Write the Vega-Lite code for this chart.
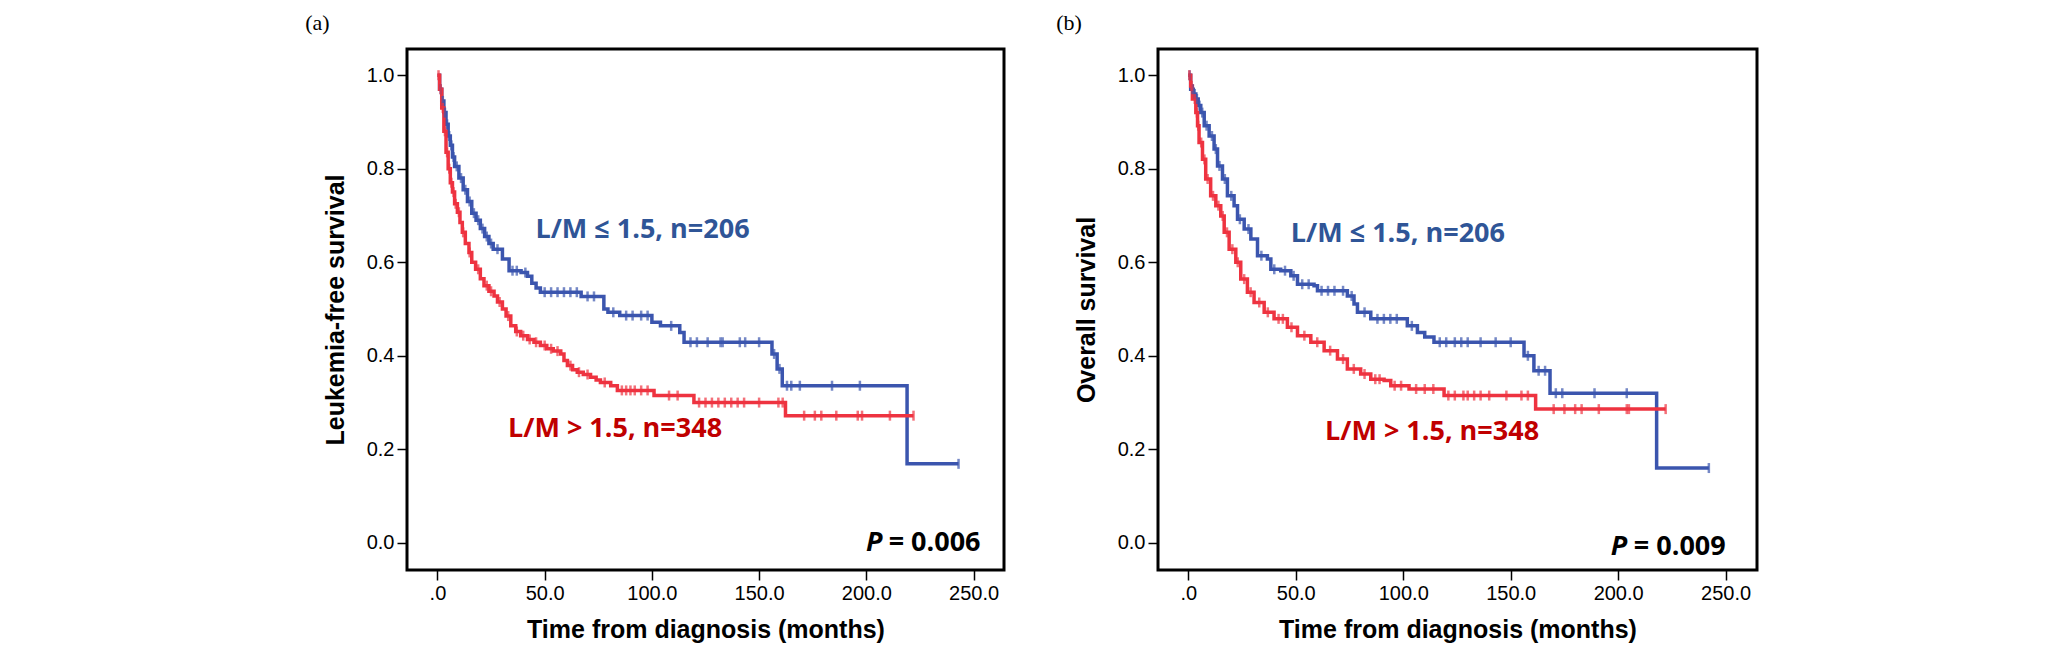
{
  "$schema": "https://vega.github.io/schema/vega-lite/v6.json",
  "background": "white",
  "padding": {"left": 303, "top": 10, "right": 5, "bottom": 0},
  "spacing": 48,
  "datasets": {
    "lfs": [
      {"group": "L/M ≤ 1.5", "t": 0, "s": 1.0}, {"group": "L/M ≤ 1.5", "t": 1, "s": 0.97}, {"group": "L/M ≤ 1.5", "t": 2, "s": 0.945},
      {"group": "L/M ≤ 1.5", "t": 3, "s": 0.92}, {"group": "L/M ≤ 1.5", "t": 4, "s": 0.895}, {"group": "L/M ≤ 1.5", "t": 5, "s": 0.87},
      {"group": "L/M ≤ 1.5", "t": 6, "s": 0.85}, {"group": "L/M ≤ 1.5", "t": 7, "s": 0.825}, {"group": "L/M ≤ 1.5", "t": 8, "s": 0.805},
      {"group": "L/M ≤ 1.5", "t": 10, "s": 0.78}, {"group": "L/M ≤ 1.5", "t": 12, "s": 0.755}, {"group": "L/M ≤ 1.5", "t": 14, "s": 0.73},
      {"group": "L/M ≤ 1.5", "t": 16, "s": 0.705}, {"group": "L/M ≤ 1.5", "t": 18, "s": 0.69}, {"group": "L/M ≤ 1.5", "t": 20, "s": 0.672},
      {"group": "L/M ≤ 1.5", "t": 22, "s": 0.655}, {"group": "L/M ≤ 1.5", "t": 24, "s": 0.64}, {"group": "L/M ≤ 1.5", "t": 26, "s": 0.628},
      {"group": "L/M ≤ 1.5", "t": 30.3, "s": 0.607}, {"group": "L/M ≤ 1.5", "t": 33.4, "s": 0.582}, {"group": "L/M ≤ 1.5", "t": 39, "s": 0.578},
      {"group": "L/M ≤ 1.5", "t": 42, "s": 0.57}, {"group": "L/M ≤ 1.5", "t": 44, "s": 0.555}, {"group": "L/M ≤ 1.5", "t": 46, "s": 0.545},
      {"group": "L/M ≤ 1.5", "t": 48, "s": 0.536}, {"group": "L/M ≤ 1.5", "t": 67, "s": 0.527}, {"group": "L/M ≤ 1.5", "t": 77.6, "s": 0.5},
      {"group": "L/M ≤ 1.5", "t": 79.5, "s": 0.493}, {"group": "L/M ≤ 1.5", "t": 85, "s": 0.486}, {"group": "L/M ≤ 1.5", "t": 100, "s": 0.472},
      {"group": "L/M ≤ 1.5", "t": 104, "s": 0.464}, {"group": "L/M ≤ 1.5", "t": 113, "s": 0.45}, {"group": "L/M ≤ 1.5", "t": 115, "s": 0.429},
      {"group": "L/M ≤ 1.5", "t": 156, "s": 0.404}, {"group": "L/M ≤ 1.5", "t": 158.4, "s": 0.372}, {"group": "L/M ≤ 1.5", "t": 160.8, "s": 0.336},
      {"group": "L/M ≤ 1.5", "t": 219, "s": 0.169}, {"group": "L/M ≤ 1.5", "t": 243, "s": 0.169},
      {"group": "L/M > 1.5", "t": 0, "s": 1.0}, {"group": "L/M > 1.5", "t": 1, "s": 0.97}, {"group": "L/M > 1.5", "t": 2, "s": 0.93},
      {"group": "L/M > 1.5", "t": 3, "s": 0.88}, {"group": "L/M > 1.5", "t": 4, "s": 0.835}, {"group": "L/M > 1.5", "t": 5, "s": 0.8},
      {"group": "L/M > 1.5", "t": 6, "s": 0.77}, {"group": "L/M > 1.5", "t": 7, "s": 0.75}, {"group": "L/M > 1.5", "t": 8, "s": 0.725},
      {"group": "L/M > 1.5", "t": 9.3, "s": 0.707}, {"group": "L/M > 1.5", "t": 10.5, "s": 0.685}, {"group": "L/M > 1.5", "t": 11.6, "s": 0.664},
      {"group": "L/M > 1.5", "t": 13, "s": 0.64}, {"group": "L/M > 1.5", "t": 14.7, "s": 0.621}, {"group": "L/M > 1.5", "t": 16, "s": 0.6},
      {"group": "L/M > 1.5", "t": 17.8, "s": 0.585}, {"group": "L/M > 1.5", "t": 20, "s": 0.565}, {"group": "L/M > 1.5", "t": 21.7, "s": 0.55},
      {"group": "L/M > 1.5", "t": 24, "s": 0.538}, {"group": "L/M > 1.5", "t": 26.4, "s": 0.528}, {"group": "L/M > 1.5", "t": 28, "s": 0.515},
      {"group": "L/M > 1.5", "t": 30.3, "s": 0.5}, {"group": "L/M > 1.5", "t": 32, "s": 0.485}, {"group": "L/M > 1.5", "t": 34.2, "s": 0.464},
      {"group": "L/M > 1.5", "t": 36.5, "s": 0.452}, {"group": "L/M > 1.5", "t": 38.8, "s": 0.443}, {"group": "L/M > 1.5", "t": 42, "s": 0.435},
      {"group": "L/M > 1.5", "t": 45, "s": 0.429}, {"group": "L/M > 1.5", "t": 48, "s": 0.422}, {"group": "L/M > 1.5", "t": 51, "s": 0.415},
      {"group": "L/M > 1.5", "t": 54, "s": 0.41}, {"group": "L/M > 1.5", "t": 57.5, "s": 0.404}, {"group": "L/M > 1.5", "t": 59, "s": 0.39},
      {"group": "L/M > 1.5", "t": 60.6, "s": 0.379}, {"group": "L/M > 1.5", "t": 63, "s": 0.37}, {"group": "L/M > 1.5", "t": 65.2, "s": 0.365},
      {"group": "L/M > 1.5", "t": 68, "s": 0.36}, {"group": "L/M > 1.5", "t": 71.4, "s": 0.354}, {"group": "L/M > 1.5", "t": 74, "s": 0.348},
      {"group": "L/M > 1.5", "t": 76, "s": 0.343}, {"group": "L/M > 1.5", "t": 80.8, "s": 0.336}, {"group": "L/M > 1.5", "t": 83.9, "s": 0.326},
      {"group": "L/M > 1.5", "t": 101, "s": 0.315}, {"group": "L/M > 1.5", "t": 119.6, "s": 0.3}, {"group": "L/M > 1.5", "t": 162.3, "s": 0.272},
      {"group": "L/M > 1.5", "t": 222, "s": 0.272}
    ],
    "lfs_cens": [
      {"group": "L/M ≤ 1.5", "t": 1.5, "s": 0.97}, {"group": "L/M ≤ 1.5", "t": 2.5, "s": 0.945}, {"group": "L/M ≤ 1.5", "t": 3.5, "s": 0.92},
      {"group": "L/M ≤ 1.5", "t": 4.5, "s": 0.895}, {"group": "L/M ≤ 1.5", "t": 5.5, "s": 0.87}, {"group": "L/M ≤ 1.5", "t": 6.5, "s": 0.85},
      {"group": "L/M ≤ 1.5", "t": 7.5, "s": 0.825}, {"group": "L/M ≤ 1.5", "t": 9, "s": 0.805}, {"group": "L/M ≤ 1.5", "t": 11, "s": 0.78},
      {"group": "L/M ≤ 1.5", "t": 13, "s": 0.755}, {"group": "L/M ≤ 1.5", "t": 15, "s": 0.73}, {"group": "L/M ≤ 1.5", "t": 17, "s": 0.705},
      {"group": "L/M ≤ 1.5", "t": 19, "s": 0.69}, {"group": "L/M ≤ 1.5", "t": 21, "s": 0.672}, {"group": "L/M ≤ 1.5", "t": 23, "s": 0.655},
      {"group": "L/M ≤ 1.5", "t": 25, "s": 0.64}, {"group": "L/M ≤ 1.5", "t": 28, "s": 0.628}, {"group": "L/M ≤ 1.5", "t": 35, "s": 0.582},
      {"group": "L/M ≤ 1.5", "t": 37, "s": 0.582}, {"group": "L/M ≤ 1.5", "t": 41, "s": 0.578}, {"group": "L/M ≤ 1.5", "t": 50, "s": 0.536},
      {"group": "L/M ≤ 1.5", "t": 53, "s": 0.536}, {"group": "L/M ≤ 1.5", "t": 56, "s": 0.536}, {"group": "L/M ≤ 1.5", "t": 59, "s": 0.536},
      {"group": "L/M ≤ 1.5", "t": 62, "s": 0.536}, {"group": "L/M ≤ 1.5", "t": 65, "s": 0.536}, {"group": "L/M ≤ 1.5", "t": 70, "s": 0.527},
      {"group": "L/M ≤ 1.5", "t": 73, "s": 0.527}, {"group": "L/M ≤ 1.5", "t": 82, "s": 0.493}, {"group": "L/M ≤ 1.5", "t": 88, "s": 0.486},
      {"group": "L/M ≤ 1.5", "t": 91, "s": 0.486}, {"group": "L/M ≤ 1.5", "t": 95, "s": 0.486}, {"group": "L/M ≤ 1.5", "t": 98, "s": 0.486},
      {"group": "L/M ≤ 1.5", "t": 109, "s": 0.464}, {"group": "L/M ≤ 1.5", "t": 118, "s": 0.429}, {"group": "L/M ≤ 1.5", "t": 121, "s": 0.429},
      {"group": "L/M ≤ 1.5", "t": 126, "s": 0.429}, {"group": "L/M ≤ 1.5", "t": 132, "s": 0.429}, {"group": "L/M ≤ 1.5", "t": 133, "s": 0.429},
      {"group": "L/M ≤ 1.5", "t": 141, "s": 0.429}, {"group": "L/M ≤ 1.5", "t": 143.5, "s": 0.429}, {"group": "L/M ≤ 1.5", "t": 150, "s": 0.429},
      {"group": "L/M ≤ 1.5", "t": 157, "s": 0.404}, {"group": "L/M ≤ 1.5", "t": 159.5, "s": 0.372}, {"group": "L/M ≤ 1.5", "t": 163, "s": 0.336},
      {"group": "L/M ≤ 1.5", "t": 165, "s": 0.336}, {"group": "L/M ≤ 1.5", "t": 169, "s": 0.336}, {"group": "L/M ≤ 1.5", "t": 184, "s": 0.336},
      {"group": "L/M ≤ 1.5", "t": 197, "s": 0.336}, {"group": "L/M ≤ 1.5", "t": 243, "s": 0.169},
      {"group": "L/M > 1.5", "t": 0.5, "s": 1.0}, {"group": "L/M > 1.5", "t": 1.5, "s": 0.97}, {"group": "L/M > 1.5", "t": 2.5, "s": 0.93},
      {"group": "L/M > 1.5", "t": 3.5, "s": 0.88}, {"group": "L/M > 1.5", "t": 4.5, "s": 0.835}, {"group": "L/M > 1.5", "t": 5.5, "s": 0.8},
      {"group": "L/M > 1.5", "t": 6.5, "s": 0.77}, {"group": "L/M > 1.5", "t": 7.5, "s": 0.75}, {"group": "L/M > 1.5", "t": 8.5, "s": 0.725},
      {"group": "L/M > 1.5", "t": 10, "s": 0.707}, {"group": "L/M > 1.5", "t": 12, "s": 0.664}, {"group": "L/M > 1.5", "t": 15, "s": 0.621},
      {"group": "L/M > 1.5", "t": 19, "s": 0.585}, {"group": "L/M > 1.5", "t": 23, "s": 0.55}, {"group": "L/M > 1.5", "t": 25, "s": 0.538},
      {"group": "L/M > 1.5", "t": 29, "s": 0.515}, {"group": "L/M > 1.5", "t": 33, "s": 0.485}, {"group": "L/M > 1.5", "t": 37, "s": 0.452},
      {"group": "L/M > 1.5", "t": 40, "s": 0.443}, {"group": "L/M > 1.5", "t": 43, "s": 0.435}, {"group": "L/M > 1.5", "t": 46, "s": 0.429},
      {"group": "L/M > 1.5", "t": 50, "s": 0.422}, {"group": "L/M > 1.5", "t": 53, "s": 0.415}, {"group": "L/M > 1.5", "t": 56, "s": 0.41},
      {"group": "L/M > 1.5", "t": 62, "s": 0.379}, {"group": "L/M > 1.5", "t": 66, "s": 0.365}, {"group": "L/M > 1.5", "t": 70, "s": 0.36},
      {"group": "L/M > 1.5", "t": 78, "s": 0.343}, {"group": "L/M > 1.5", "t": 86, "s": 0.326}, {"group": "L/M > 1.5", "t": 88, "s": 0.326},
      {"group": "L/M > 1.5", "t": 90, "s": 0.326}, {"group": "L/M > 1.5", "t": 92, "s": 0.326}, {"group": "L/M > 1.5", "t": 95, "s": 0.326},
      {"group": "L/M > 1.5", "t": 98, "s": 0.326}, {"group": "L/M > 1.5", "t": 108, "s": 0.315}, {"group": "L/M > 1.5", "t": 112, "s": 0.315},
      {"group": "L/M > 1.5", "t": 122, "s": 0.3}, {"group": "L/M > 1.5", "t": 125, "s": 0.3}, {"group": "L/M > 1.5", "t": 128, "s": 0.3},
      {"group": "L/M > 1.5", "t": 131, "s": 0.3}, {"group": "L/M > 1.5", "t": 134, "s": 0.3}, {"group": "L/M > 1.5", "t": 137, "s": 0.3},
      {"group": "L/M > 1.5", "t": 140, "s": 0.3}, {"group": "L/M > 1.5", "t": 143, "s": 0.3}, {"group": "L/M > 1.5", "t": 150, "s": 0.3},
      {"group": "L/M > 1.5", "t": 159, "s": 0.3}, {"group": "L/M > 1.5", "t": 161, "s": 0.3}, {"group": "L/M > 1.5", "t": 171, "s": 0.272},
      {"group": "L/M > 1.5", "t": 176, "s": 0.272}, {"group": "L/M > 1.5", "t": 179, "s": 0.272}, {"group": "L/M > 1.5", "t": 186, "s": 0.272},
      {"group": "L/M > 1.5", "t": 196, "s": 0.272}, {"group": "L/M > 1.5", "t": 198, "s": 0.272}, {"group": "L/M > 1.5", "t": 211, "s": 0.272},
      {"group": "L/M > 1.5", "t": 222, "s": 0.272}
    ],
    "os": [
      {"group": "L/M ≤ 1.5", "t": 0, "s": 1.0}, {"group": "L/M ≤ 1.5", "t": 1.1, "s": 0.97}, {"group": "L/M ≤ 1.5", "t": 2.3, "s": 0.96},
      {"group": "L/M ≤ 1.5", "t": 3.5, "s": 0.949}, {"group": "L/M ≤ 1.5", "t": 4.6, "s": 0.935}, {"group": "L/M ≤ 1.5", "t": 5.8, "s": 0.92},
      {"group": "L/M ≤ 1.5", "t": 7.4, "s": 0.892}, {"group": "L/M ≤ 1.5", "t": 9.7, "s": 0.87}, {"group": "L/M ≤ 1.5", "t": 12, "s": 0.842},
      {"group": "L/M ≤ 1.5", "t": 13.6, "s": 0.806}, {"group": "L/M ≤ 1.5", "t": 15.9, "s": 0.778}, {"group": "L/M ≤ 1.5", "t": 18.2, "s": 0.742},
      {"group": "L/M ≤ 1.5", "t": 21.3, "s": 0.721}, {"group": "L/M ≤ 1.5", "t": 22.9, "s": 0.692}, {"group": "L/M ≤ 1.5", "t": 26, "s": 0.671},
      {"group": "L/M ≤ 1.5", "t": 29.1, "s": 0.65}, {"group": "L/M ≤ 1.5", "t": 32.2, "s": 0.614}, {"group": "L/M ≤ 1.5", "t": 36.8, "s": 0.607},
      {"group": "L/M ≤ 1.5", "t": 38.4, "s": 0.585}, {"group": "L/M ≤ 1.5", "t": 43, "s": 0.582}, {"group": "L/M ≤ 1.5", "t": 47.7, "s": 0.571},
      {"group": "L/M ≤ 1.5", "t": 50.8, "s": 0.553}, {"group": "L/M ≤ 1.5", "t": 58.5, "s": 0.55}, {"group": "L/M ≤ 1.5", "t": 60.1, "s": 0.539},
      {"group": "L/M ≤ 1.5", "t": 74, "s": 0.528}, {"group": "L/M ≤ 1.5", "t": 77.1, "s": 0.511}, {"group": "L/M ≤ 1.5", "t": 78.7, "s": 0.493},
      {"group": "L/M ≤ 1.5", "t": 84.9, "s": 0.479}, {"group": "L/M ≤ 1.5", "t": 101.9, "s": 0.464}, {"group": "L/M ≤ 1.5", "t": 106.6, "s": 0.45},
      {"group": "L/M ≤ 1.5", "t": 110, "s": 0.44}, {"group": "L/M ≤ 1.5", "t": 114.3, "s": 0.429}, {"group": "L/M ≤ 1.5", "t": 156.2, "s": 0.4},
      {"group": "L/M ≤ 1.5", "t": 160.8, "s": 0.368}, {"group": "L/M ≤ 1.5", "t": 168.3, "s": 0.32}, {"group": "L/M ≤ 1.5", "t": 217.9, "s": 0.16},
      {"group": "L/M ≤ 1.5", "t": 242.2, "s": 0.16},
      {"group": "L/M > 1.5", "t": 0, "s": 1.0}, {"group": "L/M > 1.5", "t": 1.1, "s": 0.977}, {"group": "L/M > 1.5", "t": 1.9, "s": 0.949},
      {"group": "L/M > 1.5", "t": 3.5, "s": 0.92}, {"group": "L/M > 1.5", "t": 4.3, "s": 0.892}, {"group": "L/M > 1.5", "t": 5, "s": 0.856},
      {"group": "L/M > 1.5", "t": 6.6, "s": 0.82}, {"group": "L/M > 1.5", "t": 8.1, "s": 0.778}, {"group": "L/M > 1.5", "t": 10.4, "s": 0.742},
      {"group": "L/M > 1.5", "t": 12.8, "s": 0.721}, {"group": "L/M > 1.5", "t": 15.1, "s": 0.699}, {"group": "L/M > 1.5", "t": 16.7, "s": 0.664},
      {"group": "L/M > 1.5", "t": 19, "s": 0.628}, {"group": "L/M > 1.5", "t": 22.1, "s": 0.6}, {"group": "L/M > 1.5", "t": 24.4, "s": 0.564},
      {"group": "L/M > 1.5", "t": 27.5, "s": 0.536}, {"group": "L/M > 1.5", "t": 30.6, "s": 0.514}, {"group": "L/M > 1.5", "t": 35.3, "s": 0.493},
      {"group": "L/M > 1.5", "t": 39.9, "s": 0.479}, {"group": "L/M > 1.5", "t": 46.1, "s": 0.461}, {"group": "L/M > 1.5", "t": 50.8, "s": 0.443},
      {"group": "L/M > 1.5", "t": 57, "s": 0.429}, {"group": "L/M > 1.5", "t": 63.2, "s": 0.411}, {"group": "L/M > 1.5", "t": 69.4, "s": 0.393},
      {"group": "L/M > 1.5", "t": 74, "s": 0.372}, {"group": "L/M > 1.5", "t": 80.2, "s": 0.361}, {"group": "L/M > 1.5", "t": 84.9, "s": 0.35},
      {"group": "L/M > 1.5", "t": 91.1, "s": 0.347}, {"group": "L/M > 1.5", "t": 94.2, "s": 0.336}, {"group": "L/M > 1.5", "t": 102.7, "s": 0.329},
      {"group": "L/M > 1.5", "t": 119, "s": 0.315}, {"group": "L/M > 1.5", "t": 161.6, "s": 0.286}, {"group": "L/M > 1.5", "t": 222.1, "s": 0.286}
    ],
    "os_cens": [
      {"group": "L/M ≤ 1.5", "t": 0.6, "s": 1.0}, {"group": "L/M ≤ 1.5", "t": 2, "s": 0.97}, {"group": "L/M ≤ 1.5", "t": 3, "s": 0.96},
      {"group": "L/M ≤ 1.5", "t": 4, "s": 0.949}, {"group": "L/M ≤ 1.5", "t": 5.2, "s": 0.935}, {"group": "L/M ≤ 1.5", "t": 6.5, "s": 0.92},
      {"group": "L/M ≤ 1.5", "t": 8.5, "s": 0.892}, {"group": "L/M ≤ 1.5", "t": 11, "s": 0.87}, {"group": "L/M ≤ 1.5", "t": 12.8, "s": 0.842},
      {"group": "L/M ≤ 1.5", "t": 14.5, "s": 0.806}, {"group": "L/M ≤ 1.5", "t": 17, "s": 0.778}, {"group": "L/M ≤ 1.5", "t": 20, "s": 0.742},
      {"group": "L/M ≤ 1.5", "t": 24, "s": 0.692}, {"group": "L/M ≤ 1.5", "t": 28, "s": 0.671}, {"group": "L/M ≤ 1.5", "t": 34, "s": 0.614},
      {"group": "L/M ≤ 1.5", "t": 40, "s": 0.585}, {"group": "L/M ≤ 1.5", "t": 45, "s": 0.582}, {"group": "L/M ≤ 1.5", "t": 49, "s": 0.571},
      {"group": "L/M ≤ 1.5", "t": 53, "s": 0.553}, {"group": "L/M ≤ 1.5", "t": 56, "s": 0.553}, {"group": "L/M ≤ 1.5", "t": 62, "s": 0.539},
      {"group": "L/M ≤ 1.5", "t": 65, "s": 0.539}, {"group": "L/M ≤ 1.5", "t": 68, "s": 0.539}, {"group": "L/M ≤ 1.5", "t": 72, "s": 0.539},
      {"group": "L/M ≤ 1.5", "t": 76, "s": 0.528}, {"group": "L/M ≤ 1.5", "t": 82, "s": 0.493}, {"group": "L/M ≤ 1.5", "t": 88, "s": 0.479},
      {"group": "L/M ≤ 1.5", "t": 91, "s": 0.479}, {"group": "L/M ≤ 1.5", "t": 94, "s": 0.479}, {"group": "L/M ≤ 1.5", "t": 97, "s": 0.479},
      {"group": "L/M ≤ 1.5", "t": 104, "s": 0.464}, {"group": "L/M ≤ 1.5", "t": 117, "s": 0.429}, {"group": "L/M ≤ 1.5", "t": 120, "s": 0.429},
      {"group": "L/M ≤ 1.5", "t": 124, "s": 0.429}, {"group": "L/M ≤ 1.5", "t": 127, "s": 0.429}, {"group": "L/M ≤ 1.5", "t": 130, "s": 0.429},
      {"group": "L/M ≤ 1.5", "t": 136, "s": 0.429}, {"group": "L/M ≤ 1.5", "t": 143, "s": 0.429}, {"group": "L/M ≤ 1.5", "t": 150, "s": 0.429},
      {"group": "L/M ≤ 1.5", "t": 158, "s": 0.4}, {"group": "L/M ≤ 1.5", "t": 163, "s": 0.368}, {"group": "L/M ≤ 1.5", "t": 166, "s": 0.368},
      {"group": "L/M ≤ 1.5", "t": 171, "s": 0.32}, {"group": "L/M ≤ 1.5", "t": 174, "s": 0.32}, {"group": "L/M ≤ 1.5", "t": 189, "s": 0.32},
      {"group": "L/M ≤ 1.5", "t": 204, "s": 0.32}, {"group": "L/M ≤ 1.5", "t": 242.2, "s": 0.16},
      {"group": "L/M > 1.5", "t": 0.5, "s": 1.0}, {"group": "L/M > 1.5", "t": 1.5, "s": 0.977}, {"group": "L/M > 1.5", "t": 3, "s": 0.949},
      {"group": "L/M > 1.5", "t": 4, "s": 0.92}, {"group": "L/M > 1.5", "t": 4.6, "s": 0.892}, {"group": "L/M > 1.5", "t": 6, "s": 0.856},
      {"group": "L/M > 1.5", "t": 7.5, "s": 0.82}, {"group": "L/M > 1.5", "t": 9, "s": 0.778}, {"group": "L/M > 1.5", "t": 11.5, "s": 0.742},
      {"group": "L/M > 1.5", "t": 14, "s": 0.721}, {"group": "L/M > 1.5", "t": 16, "s": 0.699}, {"group": "L/M > 1.5", "t": 18, "s": 0.664},
      {"group": "L/M > 1.5", "t": 20.5, "s": 0.628}, {"group": "L/M > 1.5", "t": 23, "s": 0.6}, {"group": "L/M > 1.5", "t": 26, "s": 0.564},
      {"group": "L/M > 1.5", "t": 29, "s": 0.536}, {"group": "L/M > 1.5", "t": 33, "s": 0.514}, {"group": "L/M > 1.5", "t": 37, "s": 0.493},
      {"group": "L/M > 1.5", "t": 42, "s": 0.479}, {"group": "L/M > 1.5", "t": 44, "s": 0.479}, {"group": "L/M > 1.5", "t": 48, "s": 0.461},
      {"group": "L/M > 1.5", "t": 54, "s": 0.443}, {"group": "L/M > 1.5", "t": 60, "s": 0.429}, {"group": "L/M > 1.5", "t": 66, "s": 0.411},
      {"group": "L/M > 1.5", "t": 72, "s": 0.393}, {"group": "L/M > 1.5", "t": 77, "s": 0.372}, {"group": "L/M > 1.5", "t": 82, "s": 0.361},
      {"group": "L/M > 1.5", "t": 87, "s": 0.35}, {"group": "L/M > 1.5", "t": 89, "s": 0.35}, {"group": "L/M > 1.5", "t": 96, "s": 0.336},
      {"group": "L/M > 1.5", "t": 99, "s": 0.336}, {"group": "L/M > 1.5", "t": 106, "s": 0.329}, {"group": "L/M > 1.5", "t": 110, "s": 0.329},
      {"group": "L/M > 1.5", "t": 114, "s": 0.329}, {"group": "L/M > 1.5", "t": 121, "s": 0.315}, {"group": "L/M > 1.5", "t": 124, "s": 0.315},
      {"group": "L/M > 1.5", "t": 128, "s": 0.315}, {"group": "L/M > 1.5", "t": 130, "s": 0.315}, {"group": "L/M > 1.5", "t": 133, "s": 0.315},
      {"group": "L/M > 1.5", "t": 136, "s": 0.315}, {"group": "L/M > 1.5", "t": 140, "s": 0.315}, {"group": "L/M > 1.5", "t": 148, "s": 0.315},
      {"group": "L/M > 1.5", "t": 155, "s": 0.315}, {"group": "L/M > 1.5", "t": 158, "s": 0.315}, {"group": "L/M > 1.5", "t": 170, "s": 0.286},
      {"group": "L/M > 1.5", "t": 175, "s": 0.286}, {"group": "L/M > 1.5", "t": 180, "s": 0.286}, {"group": "L/M > 1.5", "t": 183, "s": 0.286},
      {"group": "L/M > 1.5", "t": 191, "s": 0.286}, {"group": "L/M > 1.5", "t": 204, "s": 0.286}, {"group": "L/M > 1.5", "t": 205, "s": 0.286},
      {"group": "L/M > 1.5", "t": 222.1, "s": 0.286}
    ]
  },
  "hconcat": [
    {
      "title": {"text": "(a)", "dx": -18},
      "width": 597,
      "height": 521,
      "encoding": {
        "x": {"field": "t", "type": "quantitative",
              "scale": {"domain": [-14.2, 264.2], "nice": false, "zero": false},
              "axis": {"values": [0, 50, 100, 150, 200, 250], "labelExpr": "datum.value == 0 ? '.0' : format(datum.value, '.1f')", "title": "Time from diagnosis (months)"}},
        "y": {"field": "s", "type": "quantitative",
              "scale": {"domain": [-0.058, 1.056], "nice": false, "zero": false},
              "axis": {"values": [0, 0.2, 0.4, 0.6, 0.8, 1], "format": ".1f", "title": "Leukemia-free survival"}}
      },
      "layer": [
        {"data": {"name": "lfs"},
         "mark": {"type": "line", "interpolate": "step-after", "strokeWidth": 3.5},
         "encoding": {"color": {"field": "group", "type": "nominal", "scale": {"domain": ["L/M ≤ 1.5", "L/M > 1.5"], "range": ["#3B55AE", "#EE3340"]}, "legend": null}}},
        {"data": {"name": "lfs_cens"},
         "mark": {"type": "tick", "orient": "vertical", "size": 10, "thickness": 2.5},
         "encoding": {"color": {"field": "group", "type": "nominal", "legend": null}}},
        {"data": {"values": [{"label": "L/M ≤ 1.5, n=206", "t": 45.7, "s": 0.668}]},
         "mark": {"type": "text", "font": "Open Sans", "fontWeight": "bold", "fontSize": 27, "align": "left", "baseline": "middle", "color": "#2F5597"},
         "encoding": {"text": {"field": "label"}}},
        {"data": {"values": [{"label": "L/M > 1.5, n=348", "t": 32.9, "s": 0.243}]},
         "mark": {"type": "text", "font": "Open Sans", "fontWeight": "bold", "fontSize": 27, "align": "left", "baseline": "middle", "color": "#C00000"},
         "encoding": {"text": {"field": "label"}}},
        {"data": {"values": [{"label": "P", "t": 199.8, "s": 0.0}]},
         "mark": {"type": "text", "font": "Open Sans", "fontWeight": "bold", "fontStyle": "italic", "fontSize": 27, "align": "left", "baseline": "middle", "color": "black"},
         "encoding": {"text": {"field": "label"}}},
        {"data": {"values": [{"label": "= 0.006", "t": 210.4, "s": 0.0}]},
         "mark": {"type": "text", "font": "Open Sans", "fontWeight": "bold", "fontSize": 27, "align": "left", "baseline": "middle", "color": "black"},
         "encoding": {"text": {"field": "label"}}}
      ]
    },
    {
      "title": {"text": "(b)", "dx": -18},
      "width": 599,
      "height": 521,
      "encoding": {
        "x": {"field": "t", "type": "quantitative",
              "scale": {"domain": [-14.1, 264.6], "nice": false, "zero": false},
              "axis": {"values": [0, 50, 100, 150, 200, 250], "labelExpr": "datum.value == 0 ? '.0' : format(datum.value, '.1f')", "title": "Time from diagnosis (months)"}},
        "y": {"field": "s", "type": "quantitative",
              "scale": {"domain": [-0.058, 1.056], "nice": false, "zero": false},
              "axis": {"values": [0, 0.2, 0.4, 0.6, 0.8, 1], "format": ".1f", "title": "Overall survival"}}
      },
      "layer": [
        {"data": {"name": "os"},
         "mark": {"type": "line", "interpolate": "step-after", "strokeWidth": 3.5},
         "encoding": {"color": {"field": "group", "type": "nominal", "scale": {"domain": ["L/M ≤ 1.5", "L/M > 1.5"], "range": ["#3B55AE", "#EE3340"]}, "legend": null}}},
        {"data": {"name": "os_cens"},
         "mark": {"type": "tick", "orient": "vertical", "size": 10, "thickness": 2.5},
         "encoding": {"color": {"field": "group", "type": "nominal", "legend": null}}},
        {"data": {"values": [{"label": "L/M ≤ 1.5, n=206", "t": 47.7, "s": 0.66}]},
         "mark": {"type": "text", "font": "Open Sans", "fontWeight": "bold", "fontSize": 27, "align": "left", "baseline": "middle", "color": "#2F5597"},
         "encoding": {"text": {"field": "label"}}},
        {"data": {"values": [{"label": "L/M > 1.5, n=348", "t": 63.6, "s": 0.2365}]},
         "mark": {"type": "text", "font": "Open Sans", "fontWeight": "bold", "fontSize": 27, "align": "left", "baseline": "middle", "color": "#C00000"},
         "encoding": {"text": {"field": "label"}}},
        {"data": {"values": [{"label": "P", "t": 196.5, "s": -0.009}]},
         "mark": {"type": "text", "font": "Open Sans", "fontWeight": "bold", "fontStyle": "italic", "fontSize": 27, "align": "left", "baseline": "middle", "color": "black"},
         "encoding": {"text": {"field": "label"}}},
        {"data": {"values": [{"label": "= 0.009", "t": 207.3, "s": -0.009}]},
         "mark": {"type": "text", "font": "Open Sans", "fontWeight": "bold", "fontSize": 27, "align": "left", "baseline": "middle", "color": "black"},
         "encoding": {"text": {"field": "label"}}}
      ]
    }
  ],
  "config": {
    "view": {"stroke": "black", "strokeWidth": 3},
    "axis": {
      "domain": false, "grid": false,
      "tickColor": "black", "tickWidth": 1.5, "tickSize": 10,
      "labelFont": "Liberation Sans", "labelFontSize": 20, "labelColor": "black", "labelPadding": 3,
      "titleFont": "Liberation Sans", "titleFontSize": 25, "titleFontWeight": "bold", "titleColor": "black"
    },
    "axisX": {"titlePadding": 14},
    "axisY": {"titlePadding": 18},
    "title": {"anchor": "start", "frame": "bounds", "font": "Liberation Serif", "fontSize": 22, "fontWeight": "normal", "color": "black", "offset": 14}
  }
}
